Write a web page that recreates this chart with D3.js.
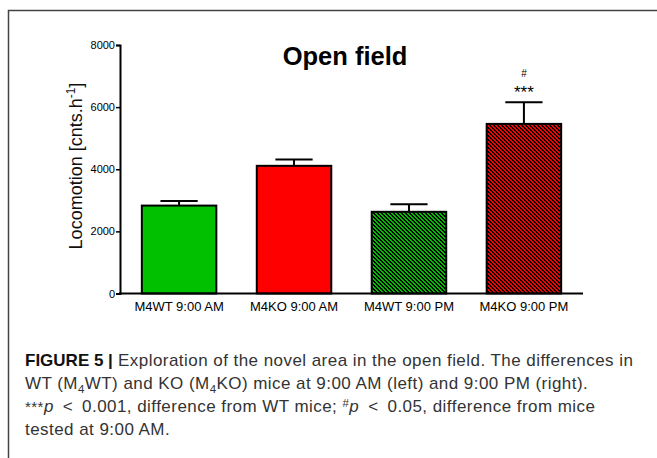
<!DOCTYPE html>
<html>
<head>
<meta charset="utf-8">
<script src="https://cdn.jsdelivr.net/npm/d3@7"></script>
<style>
  html, body { margin: 0; padding: 0; background: #fff; }
  svg { display: block; }
  text { font-family: "Liberation Sans", Arial, sans-serif; }
</style>
</head>
<body>
<svg id="chart" width="657" height="458"></svg>
<script>
// Locomotion in the open field, per group and time of testing
const categories = ["M4WT 9:00 AM", "M4KO 9:00 AM", "M4WT 9:00 PM", "M4KO 9:00 PM"];
const meanValues = [2830, 4110, 2630, 5460];
const semValues = [150, 200, 240, 700];
const fillKeys = ["wt", "ko", "wt-hatch", "ko-hatch"];
const yTicks = [0, 2000, 4000, 6000, 8000];
const significance = ["", "", "", "***"];
const hashMarks = ["", "", "", "#"];

const svg = d3.select("#chart");
svg.append("rect").attr("width", 657).attr("height", 458).attr("fill", "#fff");

// Patterns: solid colours and pixel-stepped diagonal hatching
const defs = svg.append("defs");
const baseColours = { wt: "#00c000", ko: "#ff0000" };
Object.entries(baseColours).forEach(([key, colour]) => {
  const p = defs.append("pattern")
    .attr("id", key + "-hatch")
    .attr("patternUnits", "userSpaceOnUse")
    .attr("width", 4).attr("height", 4);
  p.append("rect").attr("width", 4).attr("height", 4).attr("fill", colour);
  d3.range(4).forEach(r => {
    [r, (r + 1) % 4].forEach(c => {
      p.append("rect").attr("x", c).attr("y", r).attr("width", 1).attr("height", 1)
        .attr("fill", "#000").attr("shape-rendering", "crispEdges");
    });
  });
});
const fillFor = k => baseColours[k] ? baseColours[k] : `url(#${k})`;

// Frame around figure panel
svg.append("path")
  .attr("d", "M657,10.5 H8.5 V458")
  .attr("fill", "none").attr("stroke", "#444").attr("stroke-width", 1.5);

const x = d3.scaleBand()
  .domain(categories)
  .range([120, 583])
  .paddingInner(0.352)
  .paddingOuter(0.19);

const y = d3.scaleLinear().domain([0, 8000]).range([293.5, 45]);

// Bars
svg.append("g").selectAll("rect")
  .data(categories)
  .join("rect")
  .attr("x", d => x(d))
  .attr("width", x.bandwidth())
  .attr("y", (d, i) => y(meanValues[i]))
  .attr("height", (d, i) => y(0) - y(meanValues[i]))
  .attr("fill", (d, i) => fillFor(fillKeys[i]))
  .attr("stroke", "#000").attr("stroke-width", 2);

// Error bars (upper SEM)
const capHalf = x.bandwidth() * 0.25;
const err = svg.append("g").attr("stroke", "#000").attr("stroke-width", 2).attr("fill", "none");
categories.forEach((c, i) => {
  const cx = x(c) + x.bandwidth() / 2;
  const top = y(meanValues[i] + semValues[i]);
  err.append("path")
    .attr("d", `M${cx},${y(meanValues[i])} V${top} M${cx - capHalf},${top} H${cx + capHalf}`);
});

// Axes
const yAxis = svg.append("g")
  .attr("transform", "translate(120,0)")
  .call(d3.axisLeft(y).tickValues(yTicks).tickSize(4).tickPadding(1).tickFormat(d3.format("d")));
yAxis.select(".domain").attr("stroke-width", 2);
yAxis.selectAll(".tick line").attr("stroke-width", 1.5);
yAxis.selectAll(".tick text").attr("font-size", 11).attr("fill", "#000")
  .attr("font-family", "Liberation Sans, Arial, sans-serif");

const xAxis = svg.append("g")
  .attr("transform", `translate(0,${y(0)})`)
  .call(d3.axisBottom(x).tickSize(0).tickPadding(8));
xAxis.select(".domain").attr("stroke-width", 2).attr("d", `M119,0H583`);
xAxis.selectAll(".tick text").attr("font-size", 13).attr("fill", "#000")
  .attr("font-family", "Liberation Sans, Arial, sans-serif");

// Significance marks above error bars
categories.forEach((c, i) => {
  const cx = x(c) + x.bandwidth() / 2;
  const top = y(meanValues[i] + semValues[i]);
  if (significance[i]) {
    svg.append("text").attr("x", cx).attr("y", top - 4)
      .attr("text-anchor", "middle").attr("font-size", 17).text(significance[i]);
  }
  if (hashMarks[i]) {
    svg.append("text").attr("x", cx).attr("y", top - 25)
      .attr("text-anchor", "middle").attr("font-size", 10).text(hashMarks[i]);
  }
});

// Title
svg.append("text").attr("x", 345).attr("y", 65)
  .attr("text-anchor", "middle").attr("font-size", 25.5).attr("font-weight", "bold")
  .text("Open field");

// Y axis label
const yl = svg.append("text")
  .attr("transform", "translate(82,166) rotate(-90)")
  .attr("text-anchor", "middle").attr("font-size", 18).attr("fill", "#111");
yl.append("tspan").text("Locomotion [cnts.h");
yl.append("tspan").attr("dy", -7).attr("font-size", 12).text("-1");
yl.append("tspan").attr("dy", 7).text("]");

// Caption
const cap = svg.append("g").attr("fill", "#333").attr("font-size", 17).attr("letter-spacing", 0.45);
const l1 = cap.append("text").attr("x", 25).attr("y", 366);
l1.append("tspan").attr("font-weight", "bold").attr("fill", "#111").attr("letter-spacing", 0).text("FIGURE 5 |");
l1.append("tspan").text(" Exploration of the novel area in the open field. The differences in");

const l2 = cap.append("text").attr("x", 25).attr("y", 389);
l2.append("tspan").text("WT (M");
l2.append("tspan").attr("dy", 4).attr("font-size", 11.5).text("4");
l2.append("tspan").attr("dy", -4).text("WT) and KO (M");
l2.append("tspan").attr("dy", 4).attr("font-size", 11.5).text("4");
l2.append("tspan").attr("dy", -4).text("KO) mice at 9:00 AM (left) and 9:00 PM (right).");

const l3 = cap.append("text").attr("x", 25).attr("y", 412);
l3.append("tspan").attr("font-size", 15).text("***");
l3.append("tspan").attr("font-style", "italic").text("p");
l3.append("tspan").text("\u2002<\u20020.001, difference from WT mice; ");
l3.append("tspan").attr("dy", -5).attr("font-size", 11.5).text("#");
l3.append("tspan").attr("dy", 5).attr("font-style", "italic").text("p");
l3.append("tspan").text("\u2002<\u20020.05, difference from mice");

cap.append("text").attr("x", 25).attr("y", 435).text("tested at 9:00 AM.");
</script>
</body>
</html>
